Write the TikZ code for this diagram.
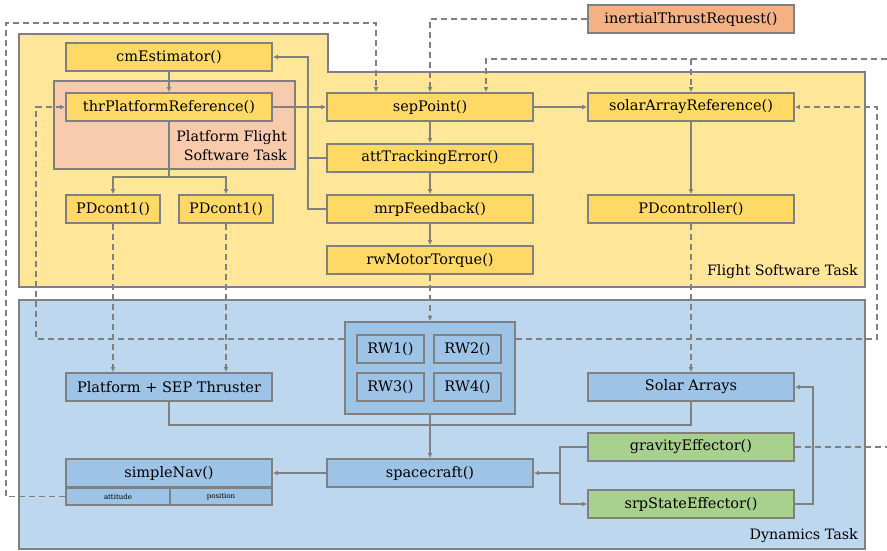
\documentclass[tikz,border=0pt]{standalone}
\usepackage{fontspec}
\setmainfont{DejaVu Serif}
\usetikzlibrary{arrows.meta}

\definecolor{edgegray}{HTML}{808080}
\definecolor{fswbg}{HTML}{FFE699}
\definecolor{dynbg}{HTML}{BDD7EE}
\definecolor{platbg}{HTML}{F8CBAD}
\definecolor{yelbox}{HTML}{FFD966}
\definecolor{blubox}{HTML}{9DC3E6}
\definecolor{grnbox}{HTML}{A9D18E}
\definecolor{orgbox}{HTML}{F4B183}

\tikzset{
  modbox/.style={draw=edgegray, line width=1.8pt, inner sep=0pt, minimum height=28pt,
    font=\fontsize{14.5}{16}\selectfont},
  fswmod/.style={modbox, fill=yelbox, minimum width=206pt},
  dynmod/.style={modbox, fill=blubox, minimum width=206pt},
  effmod/.style={modbox, fill=grnbox, minimum width=206pt},
  flow/.style={draw=edgegray, line width=1.8pt, -{Latex[length=5pt,width=5pt]}},
  wire/.style={draw=edgegray, line width=1.8pt},
  msg/.style={draw=edgegray, line width=1.8pt, dash pattern=on 6pt off 4pt,
    -{Latex[length=5pt,width=5pt]}},
  msgwire/.style={draw=edgegray, line width=1.8pt, dash pattern=on 6pt off 4pt},
  tasklabel/.style={font=\fontsize{14.3}{19}\selectfont, anchor=south east, inner sep=0pt}
}

\begin{document}
\begin{tikzpicture}[x=1pt,y=-1pt]
\useasboundingbox (0,0) rectangle (887,550);

% task areas
\filldraw[fill=fswbg, draw=edgegray, line width=1.8pt]
  (19,34) -- (328,34) -- (328,72) -- (865,72) -- (865,287) -- (19,287) -- cycle;
\filldraw[fill=dynbg, draw=edgegray, line width=1.8pt] (19,300) rectangle (865,549);
\filldraw[fill=platbg, draw=edgegray, line width=1.8pt] (54,81) rectangle (295,169);

\node[tasklabel, align=right, anchor=north east] (platlbl) at (287,130) {Platform Flight\\Software Task};
\node[tasklabel] (fswlbl) at (858,279) {Flight Software Task};
\node[tasklabel] (dynlbl) at (858,543) {Dynamics Task};

% flight software modules
\node[fswmod] (cmEst) at (169,57) {cmEstimator()};
\node[fswmod] (thrRef) at (169,107) {thrPlatformReference()};
\node[fswmod, minimum width=94pt] (pdA) at (113,209) {PDcont1()};
\node[fswmod, minimum width=94pt] (pdB) at (226,209) {PDcont1()};
\node[fswmod] (sep) at (430,107) {sepPoint()};
\node[fswmod] (att) at (430,158) {attTrackingError()};
\node[fswmod] (mrp) at (430,209) {mrpFeedback()};
\node[fswmod] (rwm) at (430,260) {rwMotorTorque()};
\node[fswmod] (sar) at (691,107) {solarArrayReference()};
\node[fswmod] (pdc) at (691,209) {PDcontroller()};
\node[modbox, fill=orgbox, minimum width=206pt] (itr) at (691,19) {inertialThrustRequest()};

% dynamics modules
\node[dynmod, minimum width=170pt, minimum height=92pt] (rwbox) at (430,368) {};
\node[dynmod, minimum width=67pt] (rw1) at (390.5,349) {RW1()};
\node[dynmod, minimum width=67pt] (rw2) at (467.5,349) {RW2()};
\node[dynmod, minimum width=67pt] (rw3) at (390.5,387) {RW3()};
\node[dynmod, minimum width=67pt] (rw4) at (467.5,387) {RW4()};
\node[dynmod] (plat) at (169,387) {Platform + SEP Thruster};
\node[dynmod] (solar) at (691,387) {Solar Arrays};
\node[dynmod] (sc) at (430,473) {spacecraft()};
\node[dynmod] (nav) at (169,473) {simpleNav()};
\node[dynmod, minimum width=104pt, minimum height=17pt, font=\fontsize{7}{8}\selectfont]
  (navAtt) at (118,496.5) {attitude};
\node[dynmod, minimum width=102pt, minimum height=17pt, font=\fontsize{7}{8}\selectfont]
  (navPos) at (221,496.5) {position};
\node[effmod] (grav) at (691,447) {gravityEffector()};
\node[effmod] (srp) at (691,504) {srpStateEffector()};

\coordinate (edgeR) at (887,59);

% solid flow
\draw[flow] (cmEst.south) -- (thrRef.north);
\draw[flow] (thrRef.east) -- (sep.west);
\draw[wire] (thrRef.south) -- ++(0,55) coordinate (split);
\draw[flow] (split) -| (pdA.north);
\draw[flow] (split) -| (pdB.north);
\draw[flow] (sep.south) -- (att.north);
\draw[flow] (att.south) -- (mrp.north);
\draw[flow] (mrp.south) -- (rwm.north);
\draw[flow] (mrp.west) -- ++(-18,0) |- (cmEst.east);
\draw[wire] (att.west) -- ++(-18,0);
\draw[flow] (sep.east) -- (sar.west);
\draw[flow] (sar.south) -- (pdc.north);

\coordinate (join) at ([yshift=-10pt]rwbox.south);
\draw[flow] (rwbox.south) -- (rwbox.south |- sc.north);
\draw[wire] (plat.south) |- (join);
\draw[wire] (solar.south) |- (join);
\draw[flow] (sc.west) -- (nav.east);
\draw[wire] (grav.west) -- ++(-27,0) coordinate (bus) -- (bus |- srp.west);
\draw[flow] (bus |- sc.east) -- (sc.east);
\draw[flow] (bus |- srp.west) -- (srp.west);
\draw[flow] (srp.east) -- ++(18,0) |- (solar.east);

% dashed messages
\draw[msg] (navAtt.west) -| (6,23) -| ([xshift=-54pt]sep.north);
\draw[msg] (itr.west) -| (sep.north);
\draw[msg] (edgeR) -| ([xshift=56pt]sep.north);
\draw[msg] (sar.north |- edgeR) -- (sar.north);
\draw[msg] ([yshift=-18pt]rwbox.north east) -| ([xshift=82pt]sar.east) -- (sar.east);
\draw[msg] ([yshift=-18pt]rwbox.north west) -| ([xshift=-29pt]thrRef.west) -- (thrRef.west);
\draw[msg] (rwm.south) -- (rwm.south |- rwbox.north);
\draw[msg] (pdA.south) -- (pdA.south |- plat.north);
\draw[msg] (pdB.south) -- (pdB.south |- plat.north);
\draw[msg] (pdc.south) -- (pdc.south |- solar.north);
\draw[msgwire] (grav.east) -- (grav.east -| edgeR);
\end{tikzpicture}
\end{document}
